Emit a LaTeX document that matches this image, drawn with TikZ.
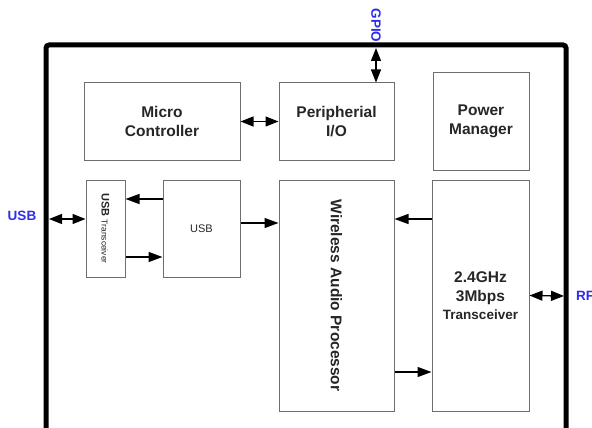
\documentclass[tikz,border=0pt]{standalone}
\usepackage{fontspec}
\setmainfont{Liberation Sans}
\usetikzlibrary{arrows.meta, positioning, calc}

\definecolor{boxgray}{RGB}{110,110,110}
\definecolor{pinblue}{RGB}{45,45,235}

\begin{document}
\begin{tikzpicture}[x=1pt, y=-1pt,
    block/.style={draw=boxgray, line width=1pt, inner sep=0pt, align=center,
        font=\fontsize{15.5}{19.5}\selectfont\bfseries, text=black!85},
    sig/.style={line width=1.4pt, -{Triangle[length=14pt,width=10pt]}},
    bus/.style={line width=1.4pt, {Triangle[length=13pt,width=10pt]}-{Triangle[length=13pt,width=10pt]}},
    pin/.style={text=pinblue, font=\fontsize{13.5}{16}\selectfont\bfseries}]
    \useasboundingbox (0,0) rectangle (592,428);

    % chip outline, open at the bottom
    \draw[line width=5pt, rounded corners=3pt] (46,445) |- (566,45) -- (566,445);

    \node[block, minimum width=156pt, minimum height=77pt] (mcu) at (162,121.5) {Micro\\Controller};
    \node[block, minimum width=115pt, minimum height=77pt] (pio) at (336.5,121.5) {Peripherial\\I/O};
    \node[block, minimum width=96pt, minimum height=97pt] (pwr) at (481,121.5) {Power\\Manager};
    \node[block, minimum width=39pt, minimum height=97pt] (usbphy) at (105.5,228.5)
        {\rotatebox{-90}{\fontsize{11}{12}\selectfont USB \fontsize{8.5}{10}\selectfont\mdseries Transceiver}};
    \node[block, minimum width=77pt, minimum height=97pt, font=\fontsize{11}{13}\selectfont] (usb) at (201.5,228.5) {USB};
    \node[block, minimum width=115pt, minimum height=231pt] (wap) at (336.5,295.5)
        {\rotatebox{-90}{Wireless Audio Processor}};
    \node[block, minimum width=97pt, minimum height=231pt] (radio) at (480.5,295.5)
        {2.4GHz\\3Mbps\\[-2pt]{\fontsize{13.5}{16}\selectfont Transceiver}};

    % pins
    \node[pin, rotate=-90] (gpiolbl) at (376,25.5) {GPIO};
    \node[pin] (usblbl) at (22,216) {USB};
    \node[pin, anchor=west, inner sep=0pt] (rflbl) at (576,296) {RF};
    \coordinate (gpio) at (376,48);
    \coordinate (usbpin) at (49,219);
    \coordinate (rfpin) at (564,296);

    \draw[bus] (mcu) -- (pio);
    \draw[bus] (gpio) -- (gpio |- pio.north);
    \draw[bus] (usbpin) -- (usbpin -| usbphy.west);
    \draw[bus] (radio.east) -- (rfpin);
    \draw[sig] ([yshift=29.5pt]usb.west) -- ([yshift=29.5pt]usbphy.east);
    \draw[sig] ([yshift=-28.5pt]usbphy.east) -- ([yshift=-28.5pt]usb.west);
    \coordinate (u2w) at ([yshift=5.5pt]usb.east);
    \draw[sig] (u2w) -- (u2w -| wap.west);
    \draw[sig] ([yshift=76.5pt]radio.west) -- ([yshift=76.5pt]wap.east);
    \draw[sig] ([yshift=-76.5pt]wap.east) -- ([yshift=-76.5pt]radio.west);
\end{tikzpicture}
\end{document}
